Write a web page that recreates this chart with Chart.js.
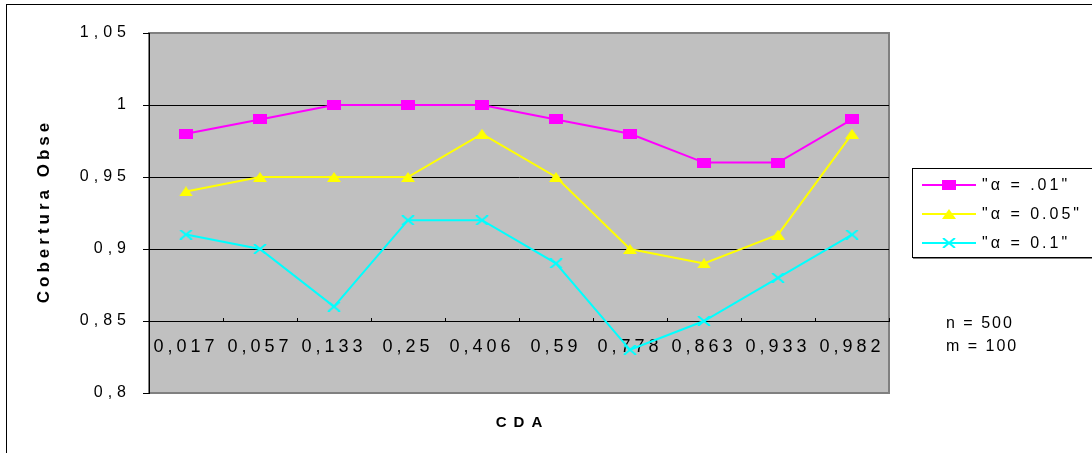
<!DOCTYPE html>
<html>
<head>
<meta charset="utf-8">
<script src="https://cdn.jsdelivr.net/npm/chart.js@4.4.0/dist/chart.umd.min.js"></script>
<style>
    body { margin: 0; background: #fff; }
</style>
</head>
<body>
<canvas id="chart" width="1092" height="453"></canvas>
<script>
// les valeurs
var categories = ['0,017', '0,057', '0,133', '0,25', '0,406', '0,59', '0,778', '0,863', '0,933', '0,982'];
var alpha01 = [0.98, 0.99, 1, 1, 1, 0.99, 0.98, 0.96, 0.96, 0.99];
var alpha05 = [0.94, 0.95, 0.95, 0.95, 0.98, 0.95, 0.90, 0.89, 0.91, 0.98];
var alpha10 = [0.91, 0.90, 0.86, 0.92, 0.92, 0.89, 0.83, 0.85, 0.88, 0.91];
var seriesNames = ['"α = .01"', '"α = 0.05"', '"α = 0.1"'];
var yTicks = [0.8, 0.85, 0.9, 0.95, 1, 1.05];
var yTickLabels = ['0,8', '0,85', '0,9', '0,95', '1', '1,05'];
var notes = ['n = 500', 'm = 100'];
var yTitle = 'Cobertura Obse';
var xTitle = 'CDA';

var FONT = "'Liberation Sans', Arial, sans-serif";
Chart.defaults.font.family = FONT;
Chart.defaults.color = '#000';

// les marqueurs (14 x 10 comme dans Excel)
function makeMarker(kind, color) {
    var c = document.createElement('canvas');
    c.width = 14;
    c.height = 10;
    var g = c.getContext('2d');
    g.fillStyle = color;
    g.strokeStyle = color;
    g.lineWidth = 2;
    if (kind === 'square') {
        g.fillRect(0, 0, 14, 10);
    } else if (kind === 'triangle') {
        g.beginPath();
        g.moveTo(7, 0);
        g.lineTo(14, 10);
        g.lineTo(0, 10);
        g.closePath();
        g.fill();
    } else {
        g.beginPath();
        g.moveTo(1, 0);
        g.lineTo(13, 10);
        g.moveTo(13, 0);
        g.lineTo(1, 10);
        g.stroke();
    }
    return c;
}

function makeDataset(label, data, color, kind) {
    return {
        label: label,
        data: data,
        borderColor: color,
        backgroundColor: color,
        borderWidth: 2,
        tension: 0,
        pointStyle: makeMarker(kind, color),
        pointRadius: 5,
        pointHoverRadius: 5
    };
}

// fond gris, cadre, et espacement des lettres
var framePlugin = {
    id: 'frame',
    beforeDraw: function(chart) {
        var ctx = chart.ctx;
        var a = chart.chartArea;
        ctx.save();
        ctx.fillStyle = '#fff';
        ctx.fillRect(0, 0, chart.width, chart.height);
        ctx.strokeStyle = '#000';
        ctx.lineWidth = 1;
        ctx.strokeRect(6.5, 4.5, chart.width + 20, chart.height + 20);
        ctx.fillStyle = '#c0c0c0';
        ctx.fillRect(a.left, a.top, a.right - a.left, a.bottom - a.top);
        ctx.strokeStyle = '#808080';
        ctx.lineWidth = 2;
        ctx.strokeRect(a.left, a.top, a.right - a.left, a.bottom - a.top);
        ctx.restore();
        ctx.letterSpacing = '4px';

        var ys = chart.scales.y;
        if (!ys._spaced) {
            var orig = ys.drawLabels;
            ys.drawLabels = function(area) {
                var old = this.ctx.letterSpacing;
                this.ctx.letterSpacing = '5px';
                orig.call(this, area);
                this.ctx.letterSpacing = old;
            };
            ys._spaced = true;
        }
    },
    afterDraw: function(chart) {
        var ctx = chart.ctx;
        var a = chart.chartArea;
        ctx.save();
        ctx.fillStyle = '#000';
        ctx.textBaseline = 'middle';

        // titre de l'axe y
        ctx.font = 'bold 17px ' + FONT;
        ctx.letterSpacing = '4px';
        ctx.textAlign = 'center';
        ctx.save();
        ctx.translate(44, (a.top + a.bottom) / 2);
        ctx.rotate(-Math.PI / 2);
        ctx.fillText(yTitle, 2, 0);
        ctx.restore();

        // titre de l'axe x
        ctx.font = 'bold 15px ' + FONT;
        ctx.letterSpacing = '7px';
        ctx.fillText(xTitle, (a.left + a.right) / 2 + 3.5, 423);

        // n et m
        ctx.font = '16px ' + FONT;
        ctx.letterSpacing = '2px';
        ctx.textAlign = 'left';
        notes.forEach(function(t, i) {
            ctx.fillText(t, a.right + 57, 324 + i * 23);
        });

        // la légende
        var lx = a.right + 23;
        var ly = 168;
        ctx.fillStyle = '#fff';
        ctx.fillRect(lx, ly, 200, 89);
        ctx.strokeStyle = '#808080';
        ctx.lineWidth = 1;
        ctx.beginPath();
        ctx.moveTo(lx + 1, ly + 90.5);
        ctx.lineTo(chart.width, ly + 90.5);
        ctx.stroke();
        ctx.strokeStyle = '#000';
        ctx.strokeRect(lx + 0.5, ly + 0.5, 200, 89);
        ctx.font = '16px ' + FONT;
        ctx.letterSpacing = '3px';
        chart.data.datasets.forEach(function(ds, i) {
            var y = ly + 17 + i * 29;
            ctx.strokeStyle = ds.borderColor;
            ctx.lineWidth = 2;
            ctx.beginPath();
            ctx.moveTo(lx + 10, y);
            ctx.lineTo(lx + 64, y);
            ctx.stroke();
            var m = ds.pointStyle;
            ctx.drawImage(m, lx + 37 - m.width / 2, y - m.height / 2);
            ctx.fillStyle = '#000';
            ctx.fillText(ds.label, lx + 70, y + 1);
        });
        ctx.restore();
    }
};

var chart = new Chart(document.getElementById('chart'), {
    type: 'line',
    data: {
        labels: categories,
        datasets: [
            makeDataset(seriesNames[0], alpha01, '#ff00ff', 'square'),
            makeDataset(seriesNames[1], alpha05, '#ffff00', 'triangle'),
            makeDataset(seriesNames[2], alpha10, '#00ffff', 'cross')
        ]
    },
    options: {
        responsive: false,
        animation: false,
        events: [],
        layout: {
            padding: { left: 0, top: 33, right: 203, bottom: 60 }
        },
        plugins: {
            legend: { display: false },
            tooltip: { enabled: false }
        },
        scales: {
            x: {
                type: 'category',
                offset: true,
                position: { y: 0.85 },
                grid: {
                    offset: true,
                    drawOnChartArea: false,
                    drawTicks: true,
                    tickLength: -4,
                    color: '#000',
                    lineWidth: 1
                },
                border: { display: true, color: '#000', width: 1 },
                ticks: {
                    font: { size: 18 },
                    color: '#000',
                    padding: 19,
                    maxRotation: 0,
                    autoSkip: false
                }
            },
            y: {
                min: 0.8,
                max: 1.05,
                afterBuildTicks: function(scale) {
                    scale.ticks = yTicks.map(function(v) { return { value: v }; });
                },
                afterFit: function(scale) {
                    scale.width = 149;
                },
                grid: {
                    color: function(c) {
                        if (c.tick && (c.tick.value <= 0.8 || c.tick.value >= 1.05)) {
                            return 'rgba(0,0,0,0)';
                        }
                        return '#000';
                    },
                    tickColor: '#000',
                    tickLength: 6,
                    lineWidth: 1
                },
                border: { color: '#000', width: 1 },
                ticks: {
                    font: { size: 16 },
                    color: '#000',
                    padding: 12,
                    callback: function(v, i) { return yTickLabels[i]; }
                }
            }
        }
    },
    plugins: [framePlugin]
});
</script>
</body>
</html>
